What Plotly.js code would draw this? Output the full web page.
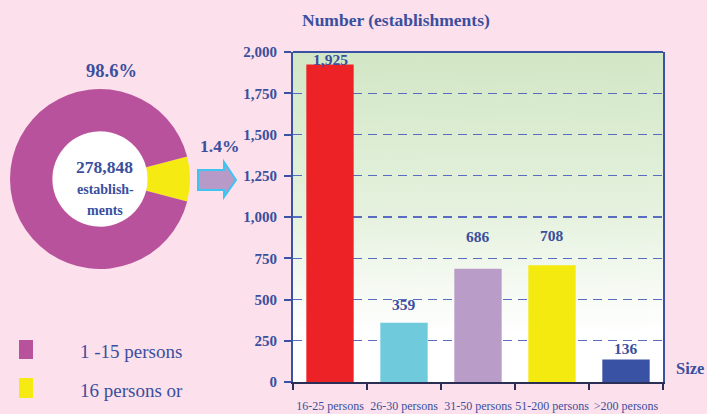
<!DOCTYPE html>
<html>
<head>
<meta charset="utf-8">
<script src="https://cdn.plot.ly/plotly-3.0.1.min.js"></script>
<style>
html,body{margin:0;padding:0;background:#fce0eb;}
#chart{width:707px;height:414px;}
</style>
</head>
<body>
<div id="chart"></div>
<script>
// ---- data ----
var sizeCategories = ['16-25 persons', '26-30 persons', '31-50 persons', '51-200 persons', '>200 persons'];
var establishments = [1925, 359, 686, 708, 136];
var barLabels = ['1,925', '359', '686', '708', '136'];
var pieLabels = ['16 persons or', '1 -15 persons'];
var pieShares = [8, 92];            // slice sizes as drawn in the picture
var pieShareText = ['1.4%', '98.6%'];
var totalText = '278,848';
var yTicks = [0, 250, 500, 750, 1000, 1250, 1500, 1750, 2000];

// ---- style ----
var W = 707, H = 414;
var blue = '#3a4f9e';
var barColors = ['#ec2227', '#6fcbdc', '#b99cc8', '#f4ea10', '#3a52a3'];
var labelLift = [5, 18, 32, 30, 11];
function px(x){ return x / W; }
function py(y){ return 1 - y / H; }

// gradient background image for the plot area
var cv = document.createElement('canvas');
cv.width = 10; cv.height = 330;
var ctx = cv.getContext('2d');
var g = ctx.createLinearGradient(0, 0, 0, 330);
g.addColorStop(0, '#d2e7c6');
g.addColorStop(0.5, '#e6f2df');
g.addColorStop(0.85, '#ffffff');
g.addColorStop(1, '#ffffff');
ctx.fillStyle = g; ctx.fillRect(0, 0, 10, 330);
var gradURL = cv.toDataURL('image/png');

var serif = 'Liberation Serif, Times New Roman, serif';

var pie = {
  type: 'pie',
  labels: pieLabels,
  values: pieShares,
  sort: false,
  direction: 'clockwise',
  rotation: 90 - pieShares[0] / (pieShares[0] + pieShares[1]) * 180,
  hole: 0.53,
  textinfo: 'none',
  hoverinfo: 'none',
  marker: {colors: ['#f5ea12', '#b8529c'], line: {width: 0}},
  domain: {x: [px(10), px(190)], y: [py(269), py(89)]},
  showlegend: false
};

var bars = {
  type: 'bar',
  x: sizeCategories,
  y: establishments,
  marker: {color: barColors, line: {width: 0}},
  hoverinfo: 'none',
  showlegend: false
};

var annotations = [];
for (var i = 0; i < sizeCategories.length; i++) {
  annotations.push({
    x: sizeCategories[i], y: establishments[i], xref: 'x', yref: 'y',
    text: '<b>' + barLabels[i] + '</b>', showarrow: false,
    xanchor: 'center', yanchor: 'middle', yshift: labelLift[i],
    font: {family: serif, size: 15.5, color: blue}
  });
}
function paperText(x, y, txt, size, anchor) {
  return {x: px(x), y: py(y), xref: 'paper', yref: 'paper', text: txt, showarrow: false,
          xanchor: anchor || 'center', yanchor: 'middle',
          font: {family: serif, size: size, color: blue}};
}
annotations.push(
  paperText(396, 20, '<b>Number (establishments)</b>', 17.5),
  paperText(706, 368, '<b>Size</b>', 16.5, 'right'),
  paperText(111, 71, '<b>' + pieShareText[1] + '</b>', 18.5),
  paperText(219, 146, '<b>' + pieShareText[0] + '</b>', 17.5),
  paperText(104, 167, '<b>' + totalText + '</b>', 17.5),
  paperText(105, 189, '<b>establish-</b>', 14),
  paperText(105, 210, '<b>ments</b>', 14),
  paperText(78, 351, pieLabels[1], 19, 'left'),
  paperText(78, 390, pieLabels[0], 19, 'left')
);

var arrowPath = 'M' + px(198) + ',' + py(170) + ' L' + px(224) + ',' + py(170) + ' L' + px(224) + ',' + py(162) +
  ' L' + px(236) + ',' + py(180) + ' L' + px(224) + ',' + py(197) + ' L' + px(224) + ',' + py(190) +
  ' L' + px(198) + ',' + py(190) + ' Z';

var shapes = [
  {type: 'circle', xref: 'paper', yref: 'paper', x0: px(52.5), x1: px(147.5), y0: py(226.5), y1: py(131.5),
   fillcolor: '#ffffff', line: {width: 0}, layer: 'below'},
  {type: 'path', xref: 'paper', yref: 'paper', path: arrowPath, fillcolor: '#b89ac8', line: {color: '#3ec4f0', width: 2}},
  {type: 'rect', xref: 'paper', yref: 'paper', x0: px(19), x1: px(33), y0: py(359), y1: py(340),
   fillcolor: '#b8529c', line: {width: 0}},
  {type: 'rect', xref: 'paper', yref: 'paper', x0: px(19), x1: px(33), y0: py(398), y1: py(378),
   fillcolor: '#f5ea12', line: {width: 0}},
  {type: 'line', xref: 'x domain', yref: 'y domain', x0: 0, x1: 1, y0: 1, y1: 1,
   line: {color: '#3a52a3', width: 2}}
];

var layout = {
  width: W, height: H,
  margin: {l: 0, r: 0, t: 0, b: 0},
  paper_bgcolor: '#fce0eb',
  plot_bgcolor: 'rgba(0,0,0,0)',
  bargap: 0.36,
  font: {family: serif, color: blue},
  xaxis: {
    domain: [px(293), px(663)],
    type: 'category',
    showline: true, linecolor: '#2c2f55', linewidth: 2,
    ticks: 'outside', tickson: 'boundaries', ticklen: 6, tickwidth: 2, tickcolor: '#2c2f55',
    tickangle: 0,
    ticklabelstandoff: 12,
    tickfont: {family: serif, size: 12, color: blue},
    showgrid: false, zeroline: false, fixedrange: true
  },
  yaxis: {
    domain: [py(382), py(52)],
    range: [0, 2000],
    tickvals: yTicks,
    tickformat: ',d',
    showline: true, linecolor: '#3a52a3', linewidth: 2, mirror: true,
    ticks: 'outside', ticklen: 7, tickwidth: 2, tickcolor: '#3a52a3',
    ticklabelstandoff: 4,
    tickfont: {family: serif, size: 15, color: blue, weight: 'bold'},
    showgrid: true, gridcolor: '#5a6cc0', gridwidth: 1.3, griddash: '9px,6px',
    zeroline: false, fixedrange: true
  },
  images: [{source: gradURL, xref: 'x domain', yref: 'y domain', x: 0, y: 1, sizex: 1, sizey: 1,
            sizing: 'stretch', xanchor: 'left', yanchor: 'top', layer: 'below'}],
  shapes: shapes,
  annotations: annotations
};

Plotly.newPlot('chart', [bars, pie], layout, {displayModeBar: false, staticPlot: true});
</script>
</body>
</html>
